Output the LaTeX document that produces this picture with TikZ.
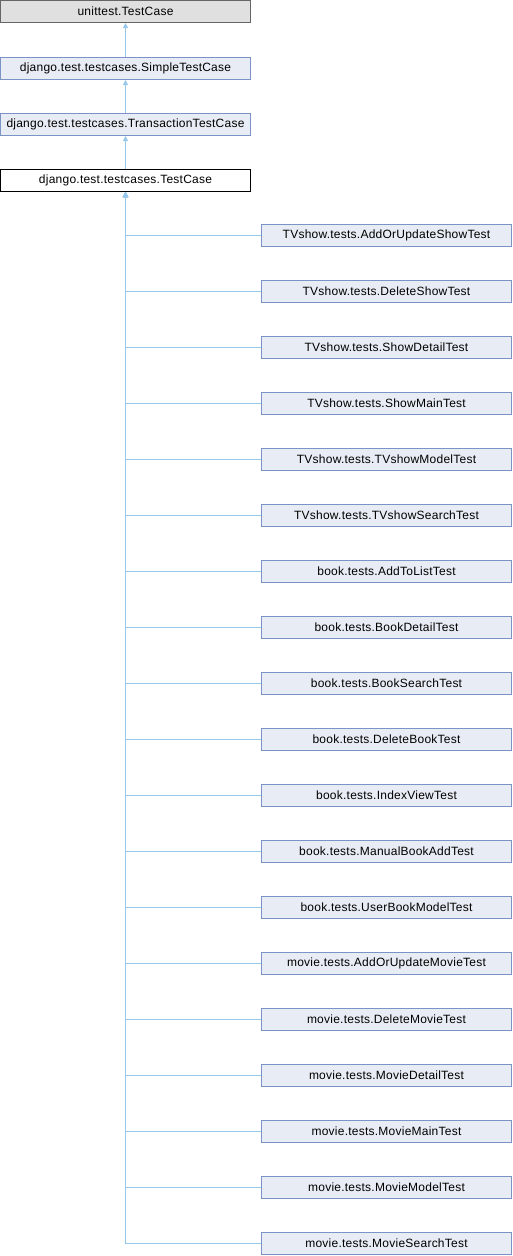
\documentclass[tikz,border=0pt]{standalone}
\usepackage{fontspec}
\setmainfont{Liberation Sans}[LetterSpace=2]
\usetikzlibrary{arrows.meta}
\definecolor{edgecol}{RGB}{150,200,235}
\definecolor{boxfill}{RGB}{232,236,244}
\definecolor{boxdraw}{RGB}{123,147,198}
\definecolor{grayfill}{RGB}{224,224,224}
\definecolor{graydraw}{RGB}{102,102,102}
\tikzset{
  cls/.style={draw=boxdraw, fill=boxfill, line width=1pt, minimum width=250pt, minimum height=22pt, inner sep=0pt, font=\fontsize{12pt}{14pt}\selectfont},
  graycls/.style={cls, draw=graydraw, fill=grayfill},
  curcls/.style={cls, draw=black, fill=white},
  edge/.style={draw=edgecol, line width=1pt, -{Triangle[length=5pt,width=5pt]}}
}
\begin{document}
\begin{tikzpicture}[x=1pt,y=-1pt]
\useasboundingbox (0,0) rectangle (512,1256);
\node[graycls] (ut) at (125.5,11.5) {unittest.TestCase};
\node[cls] (stc) at (125.5,68.5) {django.test.testcases.SimpleTestCase};
\node[cls] (ttc) at (125.5,124.5) {django.test.testcases.TransactionTestCase};
\node[curcls] (tc) at (125.5,180.5) {django.test.testcases.TestCase};
\draw[edge] (stc) -- (ut);
\draw[edge] (ttc) -- (stc);
\draw[edge] (tc) -- (ttc);
\foreach \n [count=\i from 0] in {
 TVshow.tests.AddOrUpdateShowTest,
 TVshow.tests.DeleteShowTest,
 TVshow.tests.ShowDetailTest,
 TVshow.tests.ShowMainTest,
 TVshow.tests.TVshowModelTest,
 TVshow.tests.TVshowSearchTest,
 book.tests.AddToListTest,
 book.tests.BookDetailTest,
 book.tests.BookSearchTest,
 book.tests.DeleteBookTest,
 book.tests.IndexViewTest,
 book.tests.ManualBookAddTest,
 book.tests.UserBookModelTest,
 movie.tests.AddOrUpdateMovieTest,
 movie.tests.DeleteMovieTest,
 movie.tests.MovieDetailTest,
 movie.tests.MovieMainTest,
 movie.tests.MovieModelTest,
 movie.tests.MovieSearchTest}{
  \node[cls] (c\i) at (386.5,235.5+56*\i) {\n};
  \draw[edge] (c\i.west) -| (tc.south);
}
\end{tikzpicture}
\end{document}
